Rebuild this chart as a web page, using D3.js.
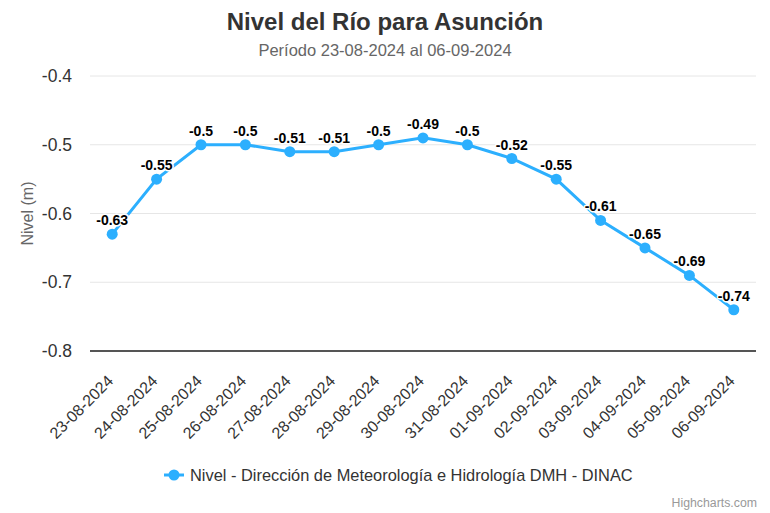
<!DOCTYPE html>
<html>
<head>
<meta charset="utf-8">
<script src="https://cdn.jsdelivr.net/npm/d3@7"></script>
<style>
  body { margin: 0; background: #fff; }
  text { font-family: "Liberation Sans", Arial, Helvetica, sans-serif; }
</style>
</head>
<body>
<svg id="chart" width="770" height="513"></svg>
<script>
var fechas = ["23-08-2024", "24-08-2024", "25-08-2024", "26-08-2024", "27-08-2024",
  "28-08-2024", "29-08-2024", "30-08-2024", "31-08-2024", "01-09-2024",
  "02-09-2024", "03-09-2024", "04-09-2024", "05-09-2024", "06-09-2024"];
var nivel = [-0.63, -0.55, -0.5, -0.5, -0.51, -0.51, -0.5, -0.49, -0.5, -0.52, -0.55, -0.61, -0.65, -0.69, -0.74];
var yTicks = [-0.8, -0.7, -0.6, -0.5, -0.4];

var color = "#2caffe";
var plotL = 90, plotR = 756, plotT = 76, plotB = 351;

var svg = d3.select("#chart");

svg.append("text")
  .attr("x", 385).attr("y", 30)
  .attr("text-anchor", "middle")
  .style("font-size", "24px").style("font-weight", "bold").style("fill", "#333")
  .text("Nivel del Río para Asunción");

svg.append("text")
  .attr("x", 385).attr("y", 56)
  .attr("text-anchor", "middle")
  .style("font-size", "16.5px").style("fill", "#666")
  .text("Período 23-08-2024 al 06-09-2024");

var x = d3.scaleBand().domain(fechas).range([plotL, plotR]);
var y = d3.scaleLinear().domain([-0.8, -0.4]).range([plotB, plotT]);

// grid
svg.append("g").selectAll("line")
  .data(yTicks.slice(1))
  .enter().append("line")
  .attr("x1", plotL).attr("x2", plotR)
  .attr("y1", function(d) { return y(d); })
  .attr("y2", function(d) { return y(d); })
  .style("stroke", "#e6e6e6").style("stroke-width", 1);

// y labels
svg.append("g").selectAll("text")
  .data(yTicks)
  .enter().append("text")
  .attr("x", 72)
  .attr("y", function(d) { return y(d) + 6; })
  .attr("text-anchor", "end")
  .style("font-size", "17.5px").style("fill", "#333")
  .text(function(d) { return d3.format(".1f")(d).replace("−", "-"); });

svg.append("text")
  .attr("transform", "translate(33," + ((plotT + plotB) / 2) + ") rotate(-90)")
  .attr("text-anchor", "middle")
  .style("font-size", "16px").style("fill", "#666")
  .text("Nivel (m)");

// x axis line
svg.append("line")
  .attr("x1", plotL).attr("x2", plotR)
  .attr("y1", plotB).attr("y2", plotB)
  .style("stroke", "#555").style("stroke-width", 2);

// x labels
svg.append("g").selectAll("text")
  .data(fechas)
  .enter().append("text")
  .attr("transform", function(d) {
    return "translate(" + (x(d) + x.bandwidth() / 2 + 2) + "," + (plotB + 31) + ") rotate(-45)";
  })
  .attr("text-anchor", "end")
  .style("font-size", "16px").style("fill", "#333")
  .text(function(d) { return d; });

var cx = function(d, i) { return x(fechas[i]) + x.bandwidth() / 2; };

var line = d3.line()
  .x(function(d, i) { return cx(d, i); })
  .y(function(d) { return y(d); });

svg.append("path")
  .datum(nivel)
  .attr("d", line)
  .style("fill", "none").style("stroke", color).style("stroke-width", 3);

svg.append("g").selectAll("circle")
  .data(nivel)
  .enter().append("circle")
  .attr("cx", cx)
  .attr("cy", function(d) { return y(d); })
  .attr("r", 5.5)
  .style("fill", color);

svg.append("g").selectAll("text")
  .data(nivel)
  .enter().append("text")
  .attr("x", cx)
  .attr("y", function(d) { return y(d) - 9; })
  .attr("text-anchor", "middle")
  .style("font-size", "14px").style("font-weight", "bold").style("fill", "#000")
  .style("stroke", "#fff").style("stroke-width", 3).style("paint-order", "stroke")
  .style("stroke-linejoin", "round")
  .text(function(d) { return d; });

// legend
var lg = svg.append("g");
lg.append("line")
  .attr("x1", 164).attr("x2", 184).attr("y1", 475).attr("y2", 475)
  .style("stroke", color).style("stroke-width", 3);
lg.append("circle")
  .attr("cx", 174).attr("cy", 475).attr("r", 5.5).style("fill", color);
lg.append("text")
  .attr("x", 190).attr("y", 481)
  .style("font-size", "16.4px").style("fill", "#333")
  .text("Nivel - Dirección de Meteorología e Hidrología DMH - DINAC");

svg.append("text")
  .attr("x", 757).attr("y", 507)
  .attr("text-anchor", "end")
  .style("font-size", "12.3px").style("fill", "#999")
  .text("Highcharts.com");
</script>
</body>
</html>
